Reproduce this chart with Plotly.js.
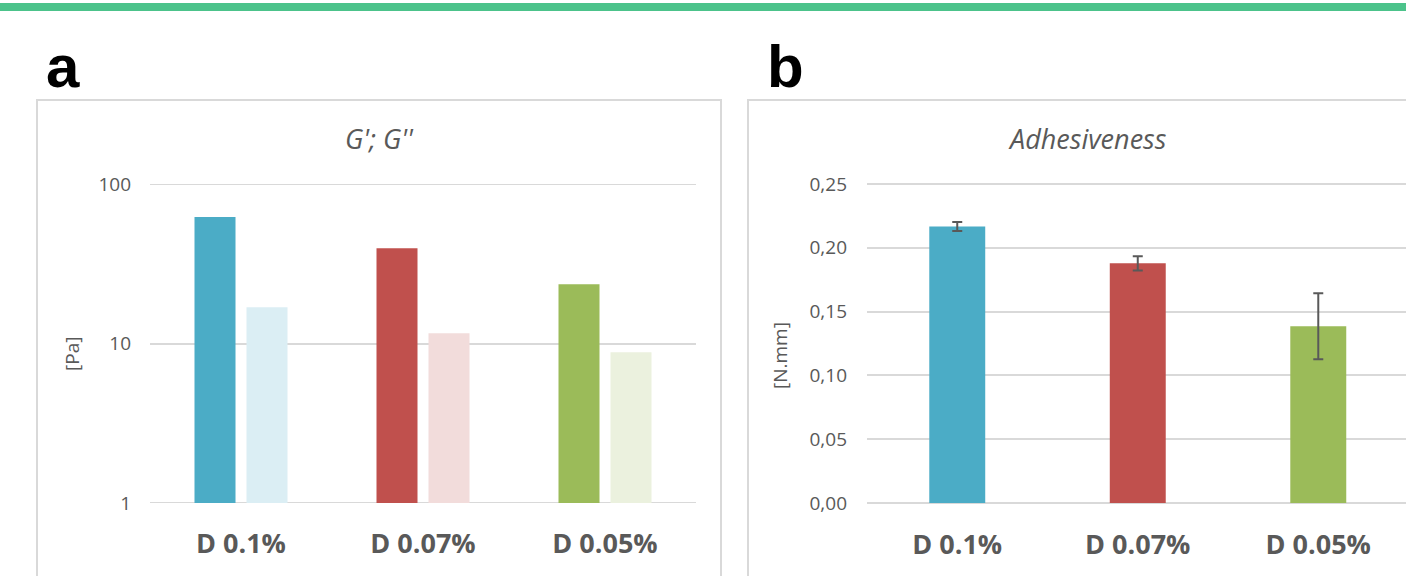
<!DOCTYPE html>
<html>
<head>
<meta charset="utf-8">
<script src="https://cdn.plot.ly/plotly-3.0.1.min.js"></script>
<style>
  html, body { margin: 0; padding: 0; background: #ffffff; }
  #chart { width: 1406px; height: 576px; }
</style>
</head>
<body>
<div id="chart"></div>
<script>
// Samples (dispersion concentration)
const categories = ['D 0.1%', 'D 0.07%', 'D 0.05%'];

// Panel a: storage (G') and loss (G'') moduli, Pa
const gStorage = [62.0, 39.5, 23.5];
const gLoss = [16.9, 11.6, 8.8];
const moduliTicks = [1, 10, 100];

// Panel b: adhesiveness, N.mm, with standard deviation
const adhesiveness = [0.2167, 0.1878, 0.1385];
const adhesivenessSd = [0.0035, 0.0055, 0.0258];

// Sample colours: full tone for G' / adhesiveness, pale tone for G''
const darkColors = ['#4bacc6', '#c0504d', '#9bbb59'];
const paleColors = ['#dbeef4', '#f2dcdb', '#ebf1de'];

const W = 1406, H = 576;
const px = x => x / W;
const py = y => 1 - y / H;

const textGray = '#595959';
const gridGray = '#d9d9d9';
const font = 'Open Sans, sans-serif';

// The linear axis range is padded slightly so its first and last gridlines are kept;
// the domain is widened by the same amount in pixels.
const linPad = 0.001;         // N.mm
const linPxPerUnit = 319.5 / 0.25;
const linPadPx = linPad * linPxPerUnit;

const traces = [
  {
    type: 'bar', x: categories, y: gStorage, name: "G'",
    xaxis: 'x', yaxis: 'y',
    marker: { color: darkColors, line: { width: 0 } },
    hoverinfo: 'x+y'
  },
  {
    type: 'bar', x: categories, y: gLoss, name: "G''",
    xaxis: 'x', yaxis: 'y',
    marker: { color: paleColors, line: { width: 0 } },
    hoverinfo: 'x+y'
  },
  {
    type: 'bar', x: categories, y: adhesiveness, name: 'Adhesiveness',
    xaxis: 'x2', yaxis: 'y2',
    width: 0.31, offset: -0.155,
    marker: { color: darkColors, line: { width: 0 } },
    error_y: {
      type: 'data', array: adhesivenessSd, visible: true,
      color: textGray, thickness: 2, width: 5
    },
    hoverinfo: 'x+y'
  }
];

const tickFont = { family: font, size: 19, color: textGray };
const catFont = { family: font, size: 27, color: textGray, weight: 'bold' };

// gridlines on the log axis at the bottom and top of its range (Plotly drops those at the ends)
const edgeGrid = [moduliTicks[0], moduliTicks[moduliTicks.length - 1]].map(v => ({
  type: 'line', xref: 'x domain', yref: 'y', x0: 0, x1: 1, y0: v, y1: v,
  line: { color: gridGray, width: 2 }, layer: 'below'
}));

const layout = {
  width: W, height: H,
  margin: { l: 0, r: 0, t: 0, b: 0 },
  paper_bgcolor: '#ffffff',
  plot_bgcolor: 'rgba(0,0,0,0)',
  showlegend: false,
  barmode: 'group',
  bargap: 0.4286,
  bargroupgap: 0.2115,
  separators: ',.',
  xaxis: {
    domain: [px(150), px(696)],
    anchor: 'y',
    type: 'category',
    range: [-0.5, 2.5],
    showgrid: false, zeroline: false, showline: false,
    ticks: '', tickfont: catFont,
    ticklabelstandoff: 22,
    fixedrange: true
  },
  yaxis: {
    domain: [py(503), py(184)],
    anchor: 'x',
    type: 'log',
    range: [0, 2],
    tickvals: moduliTicks,
    ticktext: moduliTicks.map(String),
    showgrid: true, gridcolor: gridGray, gridwidth: 2,
    zeroline: false, showline: false, ticks: '',
    tickfont: tickFont,
    ticklabelstandoff: 18,
    fixedrange: true
  },
  xaxis2: {
    domain: [px(867), 1],
    anchor: 'y2',
    type: 'category',
    range: [-0.5, 2.486],
    showgrid: false, zeroline: false, showline: false,
    ticks: '', tickfont: catFont,
    ticklabelstandoff: 22,
    fixedrange: true
  },
  yaxis2: {
    domain: [py(503 + linPadPx), py(184 - linPadPx)],
    anchor: 'x2',
    range: [-linPad, 0.25 + linPad],
    tick0: 0,
    dtick: 0.05,
    tickformat: '.2f',
    showgrid: true, gridcolor: gridGray, gridwidth: 2,
    zeroline: false, showline: false, ticks: '',
    tickfont: tickFont,
    ticklabelstandoff: 19,
    fixedrange: true
  },
  shapes: [
    // green band across the top
    { type: 'rect', xref: 'paper', yref: 'paper', x0: 0, x1: 1, y0: py(11), y1: py(3),
      fillcolor: '#4cc38b', line: { width: 0 }, layer: 'below' },
    // chart frames
    { type: 'rect', xref: 'paper', yref: 'paper', x0: px(37), x1: px(721), y0: py(590), y1: py(100),
      fillcolor: 'rgba(0,0,0,0)', line: { color: gridGray, width: 2 }, layer: 'below' },
    { type: 'rect', xref: 'paper', yref: 'paper', x0: px(748), x1: px(1440), y0: py(590), y1: py(100),
      fillcolor: 'rgba(0,0,0,0)', line: { color: gridGray, width: 2 }, layer: 'below' },
    ...edgeGrid
  ],
  annotations: [
    { text: '<b>a</b>', xref: 'paper', yref: 'paper', x: px(44), y: py(66),
      xanchor: 'left', yanchor: 'middle', showarrow: false,
      font: { family: 'Liberation Sans, Arial, sans-serif', size: 60, color: '#000000' } },
    { text: '<b>b</b>', xref: 'paper', yref: 'paper', x: px(765), y: py(66),
      xanchor: 'left', yanchor: 'middle', showarrow: false,
      font: { family: 'Liberation Sans, Arial, sans-serif', size: 60, color: '#000000' } },
    { text: "<i>G'; G''</i>", xref: 'paper', yref: 'paper', x: px(379), y: py(138),
      xanchor: 'center', yanchor: 'middle', showarrow: false,
      font: { family: font, size: 27, color: textGray } },
    { text: '<i>Adhesiveness</i>', xref: 'paper', yref: 'paper', x: px(1087), y: py(138),
      xanchor: 'center', yanchor: 'middle', showarrow: false,
      font: { family: font, size: 27, color: textGray } },
    { text: '[Pa]', xref: 'paper', yref: 'paper', x: px(72), y: py(354),
      xanchor: 'center', yanchor: 'middle', textangle: -90, showarrow: false,
      font: { family: font, size: 19, color: textGray } },
    { text: '[N.mm]', xref: 'paper', yref: 'paper', x: px(780), y: py(356),
      xanchor: 'center', yanchor: 'middle', textangle: -90, showarrow: false,
      font: { family: font, size: 19, color: textGray } }
  ]
};

Plotly.newPlot('chart', traces, layout, { staticPlot: true, displayModeBar: false });
</script>
</body>
</html>
